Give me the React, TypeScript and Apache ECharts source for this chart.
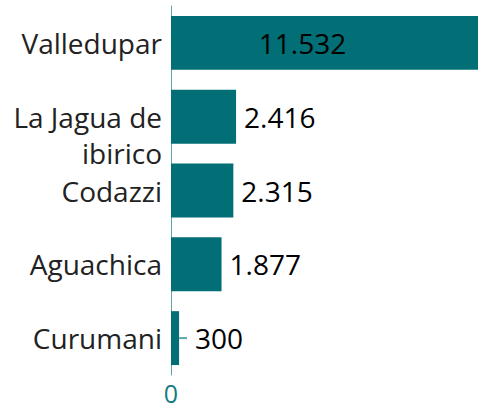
import React, { useEffect, useRef } from "react";
import * as echarts from "echarts";

const categories = ["Valledupar", "La Jagua de ibirico", "Codazzi", "Aguachica", "Curumani"];
const values = [11532, 2416, 2315, 1877, 300];
const xMax = 11400;

const BAR = "#016f75";
const AXIS = "#5fa6aa";
const FONT = "'Open Sans', 'Noto Sans', sans-serif";

function fmt(v: number): string {
  return String(v).replace(/\B(?=(\d{3})+(?!\d))/g, ".");
}

export default function App() {
  const ref = useRef<HTMLDivElement>(null);
  useEffect(() => {
    if (!ref.current) return;
    const chart = echarts.init(ref.current, undefined, { renderer: "svg" });
    chart.setOption({
      animation: false,
      grid: { left: 171, right: 0, top: 6, bottom: 28, containLabel: false },
      xAxis: {
        type: "value",
        min: 0,
        max: xMax,
        interval: 20000,
        splitLine: { show: false },
        axisLine: { show: false },
        axisTick: { show: false },
        axisLabel: {
          color: "#137b80",
          fontFamily: FONT,
          fontSize: 25,
          lineHeight: 25,
          margin: 5,
          formatter: (v: number) => (v === 0 ? "0" : ""),
        },
      },
      yAxis: {
        type: "category",
        inverse: true,
        data: categories,
        axisLine: { show: true, lineStyle: { color: AXIS, width: 1 } },
        axisTick: { show: false },
        axisLabel: {
          color: "#222",
          fontFamily: FONT,
          fontSize: 28,
          lineHeight: 36,
          margin: 9,
          formatter: (v: string) => (v === "La Jagua de ibirico" ? " \nLa Jagua de\nibirico" : v),
        },
      },
      series: [
        {
          type: "bar",
          barCategoryGap: "27%",
          clip: true,
          itemStyle: { color: BAR },
          label: {
            show: true,
            position: "right",
            distance: 8,
            color: "#000",
            fontFamily: FONT,
            fontSize: 28,
            formatter: (p: any) => fmt(p.value),
          },
          data: values.map((v, i) => {
            if (i === 0) {
              return {
                value: v,
                label: { position: "inside", offset: [-22, 0] },
              };
            }
            if (i === 4) {
              return {
                value: v,
                label: {
                  distance: 0,
                  formatter: (p: any) => "{l|}{s|}{v|" + fmt(p.value) + "}",
                  rich: {
                    l: { width: 8, height: 2, backgroundColor: AXIS },
                    s: { width: 8 },
                    v: { color: "#000", fontFamily: FONT, fontSize: 28 },
                  },
                },
              };
            }
            return v;
          }),
        },
      ],
    });
    return () => chart.dispose();
  }, []);
  return <div ref={ref} style={{ width: 481, height: 405, position: "absolute", left: 0, top: 0 }} />;
}
